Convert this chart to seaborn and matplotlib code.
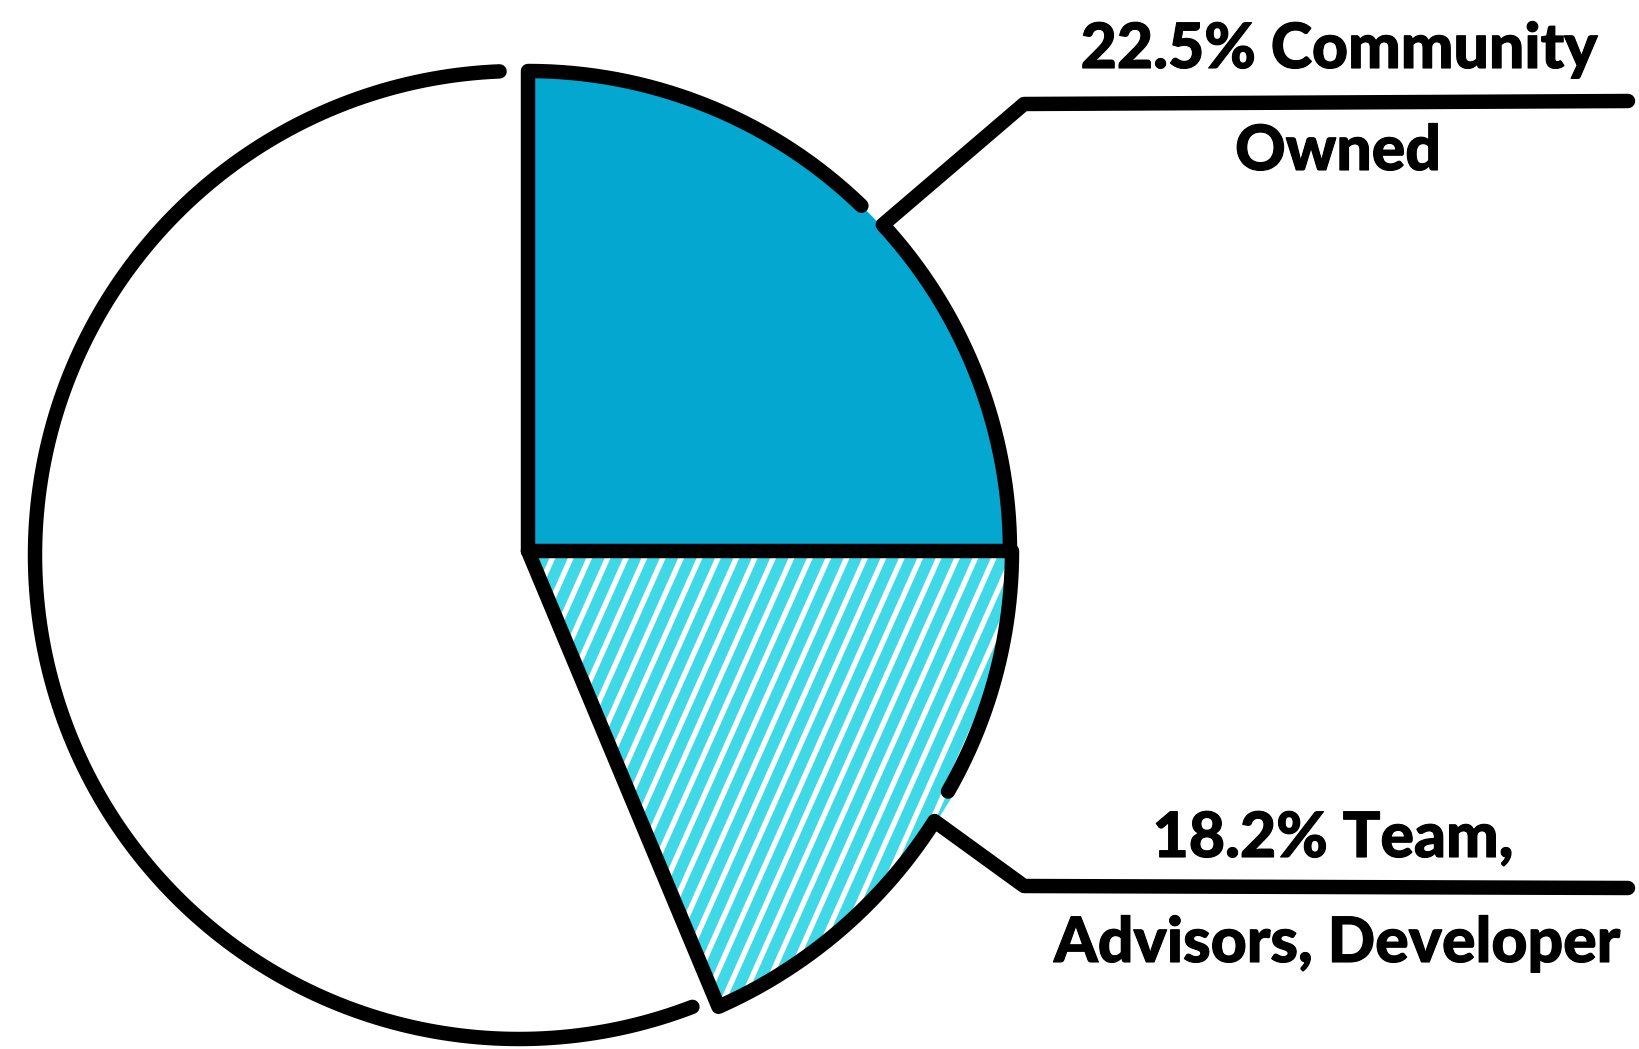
import numpy as np
import matplotlib
matplotlib.use("Agg")
import matplotlib.pyplot as plt
import matplotlib.patheffects as pe
import seaborn as sns

# ---- data ----
categories = ["Community Owned", "Team, Advisors, Developer", "Other"]
label_pcts = [22.5, 18.2]
slice_shares = [25.0, 18.7, 56.3]          # angular shares as drawn
label_top = ["22.5% Community", "Owned"]
label_bottom = ["18.2% Team,", "Advisors, Developer"]
fill_colors = ["#03A7CF", "#FFFFFF", "#FFFFFF"]
stripe_color = "#3FD8E6"

sns.set_theme(style="white")
plt.rcParams['font.family'] = ['Lato', 'DejaVu Sans']

W, H = 1639, 1049
fig = plt.figure(figsize=(W / 100, H / 100), dpi=100)
ax = fig.add_axes([0, 0, 1, 1])

cx, cy = 528, 498
R = 480
wedges, _ = ax.pie(slice_shares, colors=fill_colors, startangle=90, counterclock=False,
                   radius=R, center=(cx, cy), wedgeprops=dict(linewidth=0))
wedges[1].set_radius(490)
wedges[2].set_radius(484)

ax.set_xlim(0, W)
ax.set_ylim(0, H)
ax.set_aspect('equal')
ax.axis('off')

# stripes inside the hatched slice
ang = np.deg2rad(66)
d = np.array([np.cos(ang), np.sin(ang)])
n = np.array([np.sin(ang), -np.cos(ang)])
period = 16.8
for k in np.arange(-50, 50):
    p0 = np.array([cx, cy]) + k * period * n
    t = np.array([-800, 800])
    xs = p0[0] + t * d[0]
    ys = p0[1] + t * d[1]
    ln, = ax.plot(xs, ys, color=stripe_color, lw=8.2, solid_capstyle='butt', zorder=2)
    ln.set_clip_path(wedges[1])

LW = 10.4
kw = dict(color="black", lw=LW, solid_capstyle='round', solid_joinstyle='round', zorder=5)


def arc(r, a1, a2, n=200, c=(cx, cy)):
    a = np.deg2rad(np.linspace(a1, a2, n))
    return c[0] + r * np.cos(a), c[1] + r * np.sin(a)


w0, w1, w2 = wedges
# blue slice: left edge + top arc up to gap
ax_, ay_ = arc(w0.r, w0.theta2, 46.0)
ax.plot(np.r_[cx, ax_], np.r_[cy, ay_], **kw)
# top leader + rest of blue arc + bottom edge
vx, vy = arc(482, 42.6, 42.6, 1)
bx, by = arc(w0.r + 2, 42.6, w0.theta1)
ax.plot(np.r_[1628, 1024, vx, bx, cx], np.r_[948, 945, vy, by, cy], **kw)

# hatched slice: arc from 0 to gap
hx, hy = arc(w1.r - 6, w1.theta2, -29.8)
ax.plot(hx, hy, **kw)
# bottom leader + rest of arc + left edge back to centre
vx2, vy2 = arc(490, -33.6, -33.6, 1)
gx, gy = arc(np.linspace(488, 494, 200), -33.6, w1.theta1)
ax.plot(np.r_[1628, 1024, vx2, gx, cx], np.r_[161, 163, vy2, gy, cy], **kw)

# white slice outer arc (slightly offset circle, hand-drawn) with small gaps
wx, wy = arc(w2.r, 92.3, 291.0, c=(519, 494))
ax.plot(wx, wy, **kw)

tkw = dict(ha='center', va='baseline', fontsize=45, fontweight='black', color='black', zorder=6,
           path_effects=[pe.withStroke(linewidth=0.8, foreground='black')])
ax.text(1339, H - 68, label_top[0], **tkw)
ax.text(1338, H - 170, label_top[1], **tkw)
ax.text(1333, H - 857, label_bottom[0], **tkw)
ax.text(1337, H - 962, label_bottom[1], **tkw)

fig.savefig("out.png", dpi=100, facecolor="white")
